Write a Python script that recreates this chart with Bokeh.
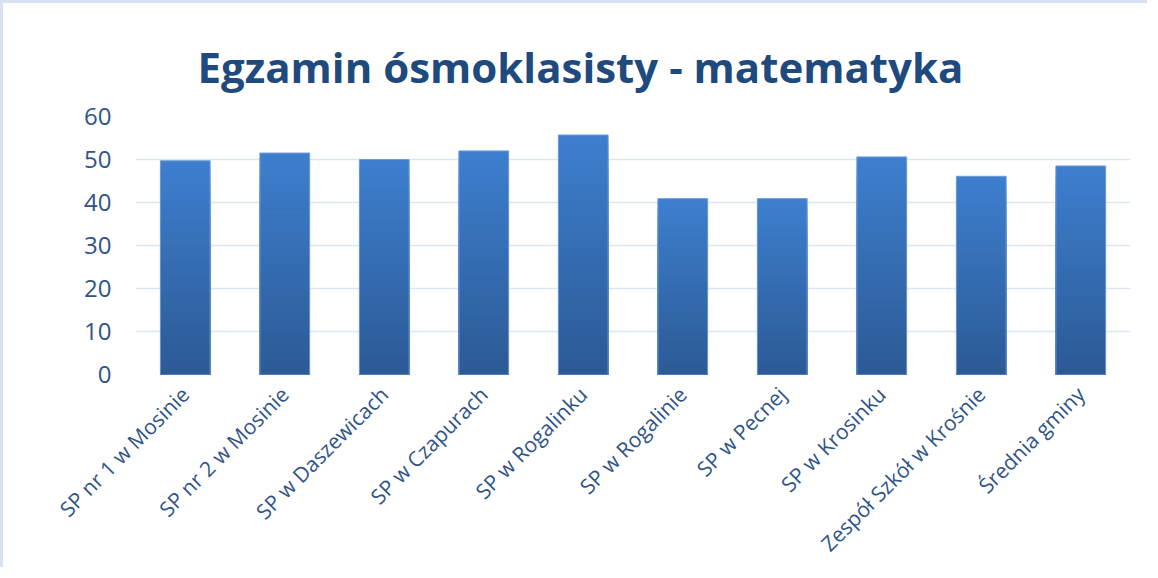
import math
import numpy as np
from bokeh.plotting import figure
from bokeh.models import Title, ColumnDataSource
from bokeh.embed import file_html
from bokeh.resources import INLINE

# ---- data ----
schools = [
    "SP nr 1 w Mosinie",
    "SP nr 2 w Mosinie",
    "SP w Daszewicach",
    "SP w Czapurach",
    "SP w Rogalinku",
    "SP w Rogalinie",
    "SP w Pecnej",
    "SP w Krosinku",
    "Zespół Szkół w Krośnie",
    "Średnia gminy",
]
scores = [49.7, 51.5, 50.0, 52.0, 55.7, 40.9, 40.9, 50.6, 46.1, 48.5]
y_ticks = [0, 10, 20, 30, 40, 50, 60]

TITLE_COLOR = "#1f4a7e"
LABEL_COLOR = "#2f5488"
GRID_COLOR = "#dce6f3"
BAR_TOP = np.array([0x3d, 0x7f, 0xcf])
BAR_BOTTOM = np.array([0x2c, 0x5a, 0x95])

p = figure(
    x_range=schools,
    y_range=(0, 60),
    width=1147,
    height=567,
    output_backend="svg",
    toolbar_location=None,
    min_border_left=132,
    min_border_right=20,
    min_border_top=113,
    min_border_bottom=196,
)
p.styles = {"border-left": "3px solid #d6e2f2", "border-top": "3px solid #d6e2f2"}

# gradient bars: overlapping layers, tallest (lightest) first, each a share of its bar's own height
N = 40
xs, tops, colors = [], [], []
for i in range(N):
    frac = (N - i) / N
    t = (N - i - 0.5) / N
    c = BAR_BOTTOM + (BAR_TOP - BAR_BOTTOM) * t
    col = "#%02x%02x%02x" % tuple(int(round(k)) for k in c)
    for name, v in zip(schools, scores):
        xs.append(name)
        tops.append(v * frac)
        colors.append(col)

src = ColumnDataSource(dict(x=xs, top=tops, color=colors))
p.vbar(x="x", top="top", width=0.5, source=src,
       fill_color="color", line_color=None)
p.vbar(x=schools, top=scores, width=0.5, fill_alpha=0,
       line_color="#6f9bd8", line_width=1)

p.add_layout(Title(text="Egzamin ósmoklasisty - matematyka", align="left",
                   text_font="Open Sans", text_font_size="42px",
                   text_font_style="bold", text_color=TITLE_COLOR,
                   standoff=44, offset=62), "above")

p.outline_line_color = None
p.background_fill_color = "white"
p.border_fill_color = "white"

p.xgrid.grid_line_color = None
p.ygrid.grid_line_color = GRID_COLOR
p.ygrid.grid_line_width = 1.5
p.ygrid.ticker = y_ticks
p.yaxis.ticker = y_ticks

for ax in (p.xaxis, p.yaxis):
    ax.axis_line_color = None
    ax.major_tick_line_color = None
    ax.minor_tick_line_color = None
    ax.major_label_text_font = "Open Sans"
    ax.major_label_text_color = LABEL_COLOR

p.yaxis.major_label_text_font_size = "24px"
p.yaxis.major_label_standoff = 18
p.xaxis.major_label_text_font_size = "21px"
p.xaxis.major_label_orientation = math.pi / 4
p.xaxis.major_label_standoff = 10
p.x_range.range_padding = 0

open("out.html", "w").write(file_html(p, INLINE))
